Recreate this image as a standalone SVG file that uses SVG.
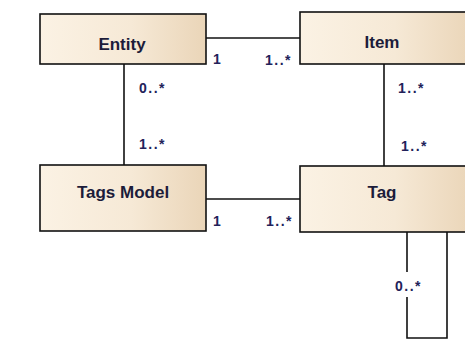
<svg xmlns="http://www.w3.org/2000/svg" width="465" height="340" viewBox="0 0 465 340">
  <defs>
    <linearGradient id="boxfill" x1="0" y1="0" x2="1" y2="0">
      <stop offset="0" stop-color="#fbf2e4"/>
      <stop offset="0.55" stop-color="#f6e9d6"/>
      <stop offset="1" stop-color="#ead5b8"/>
    </linearGradient>
  </defs>
  <style>
    .box { fill: url(#boxfill); stroke: #111; stroke-width: 1.6; }
    .name { font-family: "Liberation Sans", Arial, sans-serif; font-weight: bold; font-size: 17px; fill: #1c1c3a; text-anchor: middle; }
    .mult { font-family: "Liberation Sans", Arial, sans-serif; font-weight: bold; font-size: 14px; fill: #22225a; letter-spacing: 1.5px; }
    .conn { fill: none; stroke: #111; stroke-width: 1.6; }
  </style>
  <rect width="465" height="340" fill="#ffffff"/>
  <g id="connectors">
    <line class="conn" x1="206" y1="38" x2="300" y2="38"/>
    <line class="conn" x1="124" y1="64" x2="124" y2="165"/>
    <line class="conn" x1="384" y1="64" x2="384" y2="166"/>
    <line class="conn" x1="206" y1="199" x2="300" y2="199"/>
    <polyline class="conn" points="407,232 407,272"/>
    <polyline class="conn" points="407,297 407,338 447,338 447,232"/>
    <text class="mult" x="213" y="64">1</text>
    <text class="mult" x="265" y="65">1..*</text>
    <text class="mult" x="139" y="93">0..*</text>
    <text class="mult" x="398" y="93">1..*</text>
    <text class="mult" x="139" y="149">1..*</text>
    <text class="mult" x="401" y="151">1..*</text>
    <text class="mult" x="213" y="226">1</text>
    <text class="mult" x="266" y="226">1..*</text>
    <text class="mult" x="395" y="291">0..*</text>
  </g>
  <g id="entity">
    <rect class="box" x="40" y="14" width="166" height="50"/>
    <text class="name" x="122" y="50">Entity</text>
  </g>
  <g id="item">
    <rect class="box" x="300" y="12" width="172" height="52"/>
    <text class="name" x="382" y="48">Item</text>
  </g>
  <g id="tags-model">
    <rect class="box" x="40" y="165" width="166" height="66"/>
    <text class="name" x="123" y="198">Tags Model</text>
  </g>
  <g id="tag">
    <rect class="box" x="300" y="166" width="172" height="66"/>
    <text class="name" x="382" y="198">Tag</text>
  </g>
</svg>
